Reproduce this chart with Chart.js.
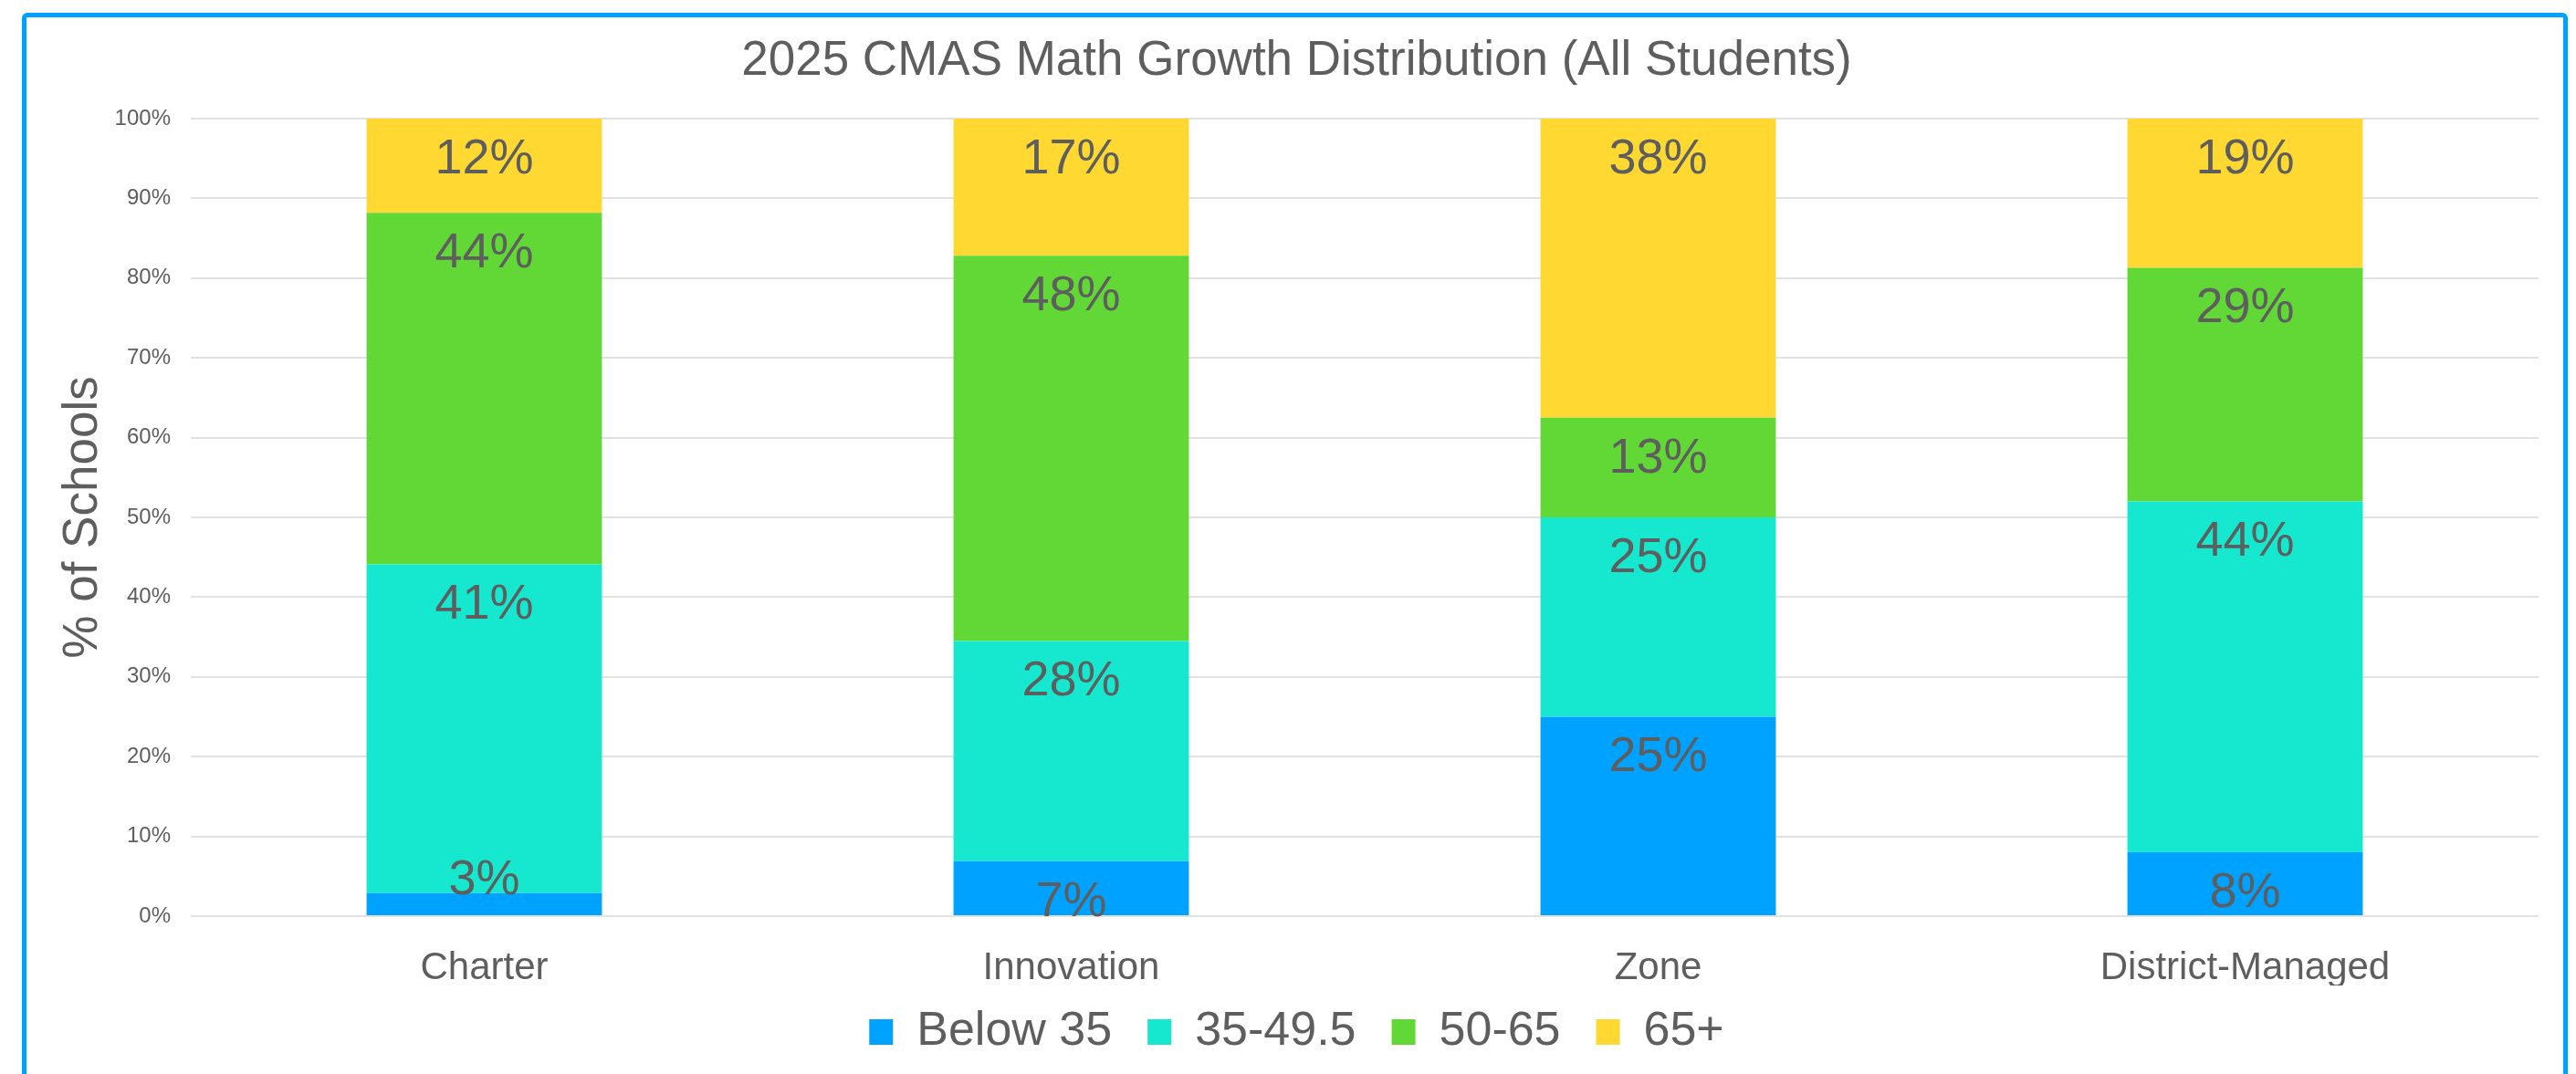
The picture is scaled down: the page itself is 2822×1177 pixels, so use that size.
<!DOCTYPE html>
<html>
<head>
<meta charset="utf-8">
<title>2025 CMAS Math Growth Distribution</title>
<script src="https://cdn.jsdelivr.net/npm/chart.js@4.4.1/dist/chart.umd.min.js"></script>
<style>
    html, body { margin: 0; padding: 0; background: #ffffff; overflow: hidden; }
    #wrap { position: relative; width: 2822px; height: 1177px; }
    #frame {
        position: absolute; left: 24px; top: 14px;
        width: 2789px; height: 1300px;
        box-sizing: border-box;
        border: 5px solid #00A2FF; border-radius: 6px;
        pointer-events: none;
    }
</style>
</head>
<body>
<div id="wrap">
    <canvas id="growth"></canvas>
    <div id="frame"></div>
</div>
<script>
// categories and series (percent of schools)
const categories = ['Charter', 'Innovation', 'Zone', 'District-Managed'];
const below35 = [2.9, 6.9, 25.0, 8.0];
const mid35to49 = [41.2, 27.6, 25.0, 44.0];
const mid50to65 = [44.1, 48.3, 12.5, 29.3];
const above65 = [11.8, 17.2, 37.5, 18.7];
const seriesNames = ['Below 35', '35-49.5', '50-65', '65+'];
const seriesColors = ['#00A2FF', '#16E7CF', '#61D836', '#FFD932'];
const yTicks = [0, 10, 20, 30, 40, 50, 60, 70, 80, 90, 100];

const textGray = '#5E5E5E';
const fontFamily = '"Liberation Sans", Arial, Helvetica, sans-serif';

// Draw the percentage labels near the top of every segment
const segmentLabels = {
    id: 'segmentLabels',
    afterDatasetsDraw(chart) {
        const ctx = chart.ctx;
        ctx.save();
        ctx.font = '54px ' + fontFamily;
        ctx.fillStyle = textGray;
        ctx.textAlign = 'center';
        ctx.textBaseline = 'middle';
        chart.data.datasets.forEach((ds, i) => {
            const meta = chart.getDatasetMeta(i);
            meta.data.forEach((bar, j) => {
                const top = Math.min(bar.y, bar.base);
                const h = Math.abs(bar.base - bar.y);
                let y = top + 45;
                if (h < 40) y = top - 14; // too thin, sit on top of it
                ctx.fillText(Math.round(ds.data[j]) + '%', bar.x, y);
            });
        });
        ctx.restore();
    }
};

// wider gaps between legend items without making the legend taller
const legendSpacing = {
    id: 'legendSpacing',
    beforeInit(chart) {
        const fit = chart.legend.fit;
        chart.legend.fit = function () {
            fit.call(this);
            this.height = 87;
        };
    },
    afterLayout(chart) {
        chart.legend.top -= 14;
    }
};

const datasets = [below35, mid35to49, mid50to65, above65].map((vals, i) => ({
    label: seriesNames[i],
    data: vals,
    backgroundColor: seriesColors[i],
    borderWidth: 0,
    barPercentage: 0.401,
    categoryPercentage: 1.0
}));

const ctx = document.getElementById('growth').getContext('2d');
const chart = new Chart(ctx, {
    type: 'bar',
    data: {
        labels: categories,
        datasets: datasets
    },
    options: {
        responsive: true,
        maintainAspectRatio: false,
        animation: false,
        layout: {
            padding: { left: 60, right: 41, top: 0, bottom: 10 }
        },
        plugins: {
            tooltip: { enabled: false },
            title: {
                display: true,
                text: '2025 CMAS Math Growth Distribution (All Students)',
                color: textGray,
                font: { family: fontFamily, size: 53, weight: 'normal' },
                padding: { top: 36, bottom: 30.4 }
            },
            legend: {
                position: 'bottom',
                labels: {
                    color: textGray,
                    font: { family: fontFamily, size: 52 },
                    boxWidth: 26,
                    boxHeight: 28,
                    padding: 39
                }
            }
        },
        scales: {
            x: {
                stacked: true,
                grid: { display: false },
                border: { display: false },
                ticks: {
                    color: textGray,
                    font: { family: fontFamily, size: 42 },
                    padding: 24
                },
                afterFit: (scale) => { scale.height = 76; }
            },
            y: {
                stacked: true,
                min: 0,
                max: 100,
                border: { display: false },
                grid: { color: '#E2E2E2', lineWidth: 2, drawTicks: false },
                afterBuildTicks: (scale) => {
                    scale.ticks = yTicks.map(v => ({ value: v }));
                },
                ticks: {
                    color: textGray,
                    font: { family: fontFamily, size: 24 },
                    padding: 22,
                    callback: (v) => v + '%'
                },
                title: {
                    display: true,
                    text: '% of Schools',
                    color: textGray,
                    font: { family: fontFamily, size: 53 },
                    padding: { top: 0, bottom: 0 }
                },
                afterFit: (scale) => { scale.width = 149; }
            }
        }
    },
    plugins: [segmentLabels, legendSpacing]
});
</script>
</body>
</html>
